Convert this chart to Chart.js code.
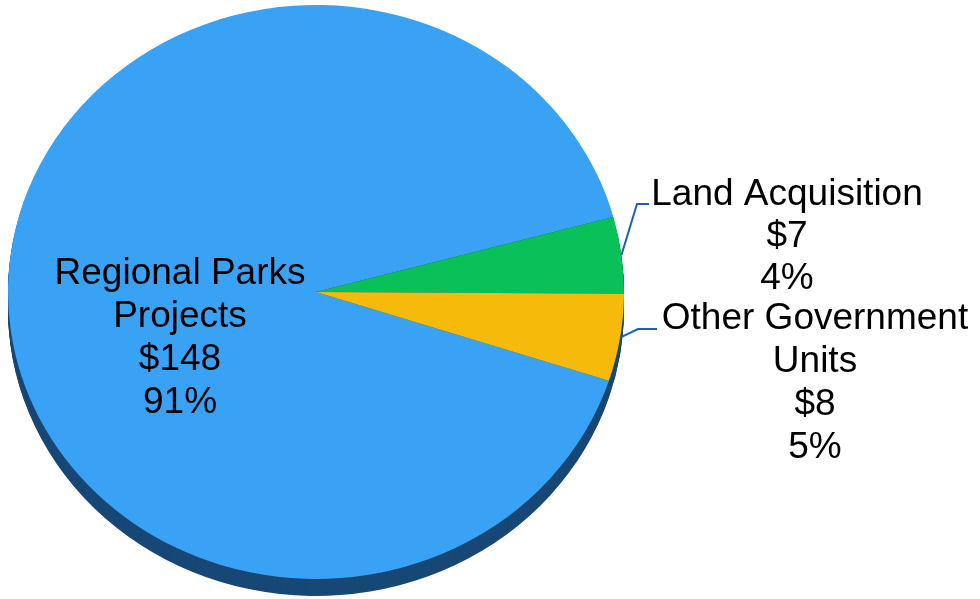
<!DOCTYPE html>
<html>
<head>
<meta charset="utf-8">
<script src="https://cdn.jsdelivr.net/npm/chart.js@4/dist/chart.umd.min.js"></script>
<style>
  html, body { margin: 0; padding: 0; background: #fff; overflow: hidden; }
  canvas { display: block; }
</style>
</head>
<body>
<canvas id="myChart" width="980" height="599"></canvas>
<script>
// data
const categories = ['Regional Parks Projects', 'Land Acquisition', 'Other Government Units'];
const nameLines = [['Regional Parks', 'Projects'], ['Land Acquisition'], ['Other Government', 'Units']];
const amounts = [148, 7, 8];
const amountLabels = ['$148', '$7', '$8'];
const pctLabels = ['91%', '4%', '5%'];
const colors = ['rgb(58,162,245)', 'rgb(10,192,88)', 'rgb(245,186,10)'];

const DEPTH = 17;          // thickness of the 3d rim
const SQUASH_X = 308 / 287; // pie is wider than tall
const RIM = 'rgb(24,72,118)';

// where the label blocks sit (center x, first baseline, line step)
const labelPos = [
  { x: 180, y: 284, step: 43 },
  { x: 787, y: 205, step: 42 },
  { x: 815, y: 329, step: 43 }
];
// leader lines: elbow and end for the two small slices
const leaders = [null, { ex: 637, ey: 204, tx: 649 }, { ex: 638, ey: 329, tx: 657 }];

const pie3d = {
  id: 'pie3d',
  beforeDatasetsDraw(chart) {
    const ctx = chart.ctx;
    const meta = chart.getDatasetMeta(0);
    const a0 = meta.data[0];
    ctx.save();
    ctx.translate(a0.x, a0.y);
    ctx.scale(SQUASH_X, 1);
    ctx.translate(-a0.x, -a0.y);
    // rim below the top face
    ctx.fillStyle = RIM;
    for (let d = DEPTH; d >= 1; d--) {
      meta.data.forEach(el => {
        const p = el.getProps(['x', 'y', 'startAngle', 'endAngle', 'outerRadius']);
        ctx.beginPath();
        ctx.moveTo(p.x, p.y + d);
        ctx.arc(p.x, p.y + d, p.outerRadius, p.startAngle, p.endAngle);
        ctx.closePath();
        ctx.fill();
      });
    }
  },
  afterDatasetsDraw(chart) {
    chart.ctx.restore();
  },
  afterDraw(chart) {
    const ctx = chart.ctx;
    const meta = chart.getDatasetMeta(0);
    ctx.save();
    ctx.fillStyle = '#000';
    ctx.font = '37px "Liberation Sans", Arial, sans-serif';
    ctx.textAlign = 'center';
    ctx.textBaseline = 'alphabetic';
    categories.forEach((c, i) => {
      const lines = nameLines[i].concat([amountLabels[i], pctLabels[i]]);
      const lp = labelPos[i];
      lines.forEach((t, k) => ctx.fillText(t, lp.x, lp.y + k * lp.step));

      const L = leaders[i];
      if (L) {
        const p = meta.data[i].getProps(['x', 'y', 'startAngle', 'endAngle', 'outerRadius']);
        const mid = (p.startAngle + p.endAngle) / 2;
        const sx = p.x + Math.cos(mid) * p.outerRadius * SQUASH_X;
        const sy = p.y + Math.sin(mid) * p.outerRadius;
        ctx.strokeStyle = 'rgb(30,96,176)';
        ctx.lineWidth = 2;
        ctx.beginPath();
        ctx.moveTo(sx, sy);
        ctx.lineTo(L.ex, L.ey);
        ctx.lineTo(L.tx, L.ey);
        ctx.stroke();
      }
    });
    ctx.restore();
  }
};

const ctx = document.getElementById('myChart');
const chart = new Chart(ctx, {
  type: 'pie',
  data: {
    labels: categories,
    datasets: [{
      data: amounts,
      backgroundColor: colors,
      borderWidth: 0
    }]
  },
  options: {
    responsive: false,
    devicePixelRatio: 1,
    animation: false,
    rotation: 108,
    layout: { padding: { left: 29, right: 377, top: 5, bottom: 20 } },
    plugins: {
      legend: { display: false },
      tooltip: { enabled: false }
    }
  },
  plugins: [pie3d]
});
</script>
</body>
</html>
